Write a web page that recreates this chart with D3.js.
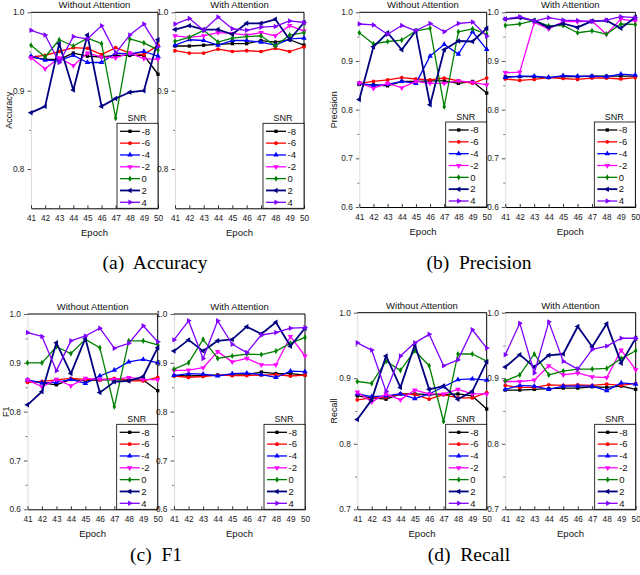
<!DOCTYPE html>
<html><head><meta charset="utf-8">
<script src="https://cdn.jsdelivr.net/npm/d3@7"></script>
<style>body{margin:0;background:#fff}svg{display:block}</style>
</head><body>
<script>
const epochs = [41,42,43,44,45,46,47,48,49,50];
const snrLabels = ["-8","-6","-4","-2","0","2","4"];

const accuracyWithout = [
 [0.943,0.940,0.940,0.948,0.944,0.943,0.945,0.945,0.945,0.921],
 [0.943,0.945,0.950,0.955,0.954,0.946,0.955,0.948,0.946,0.958],
 [0.944,0.939,0.938,0.945,0.936,0.936,0.948,0.947,0.950,0.944],
 [0.942,0.928,0.942,0.932,0.948,0.943,0.942,0.948,0.941,0.940],
 [0.958,0.943,0.965,0.957,0.967,0.960,0.865,0.966,0.961,0.952],
 [0.872,0.880,0.960,0.901,0.971,0.880,0.890,0.898,0.900,0.965],
 [0.977,0.971,0.936,0.969,0.966,0.983,0.948,0.971,0.985,0.956]
];
const accuracyWith = [
 [0.957,0.957,0.958,0.959,0.960,0.960,0.964,0.962,0.965,0.958],
 [0.951,0.948,0.948,0.953,0.950,0.951,0.950,0.954,0.950,0.956],
 [0.958,0.965,0.964,0.958,0.964,0.964,0.962,0.958,0.966,0.967],
 [0.970,0.968,0.970,0.974,0.973,0.971,0.974,0.970,0.983,0.976],
 [0.963,0.968,0.977,0.962,0.967,0.969,0.970,0.957,0.971,0.974],
 [0.978,0.983,0.978,0.978,0.972,0.986,0.986,0.991,0.965,0.987],
 [0.985,0.992,0.977,0.994,0.979,0.977,0.981,0.982,0.989,0.987]
];
const precisionWithout = [
 [0.852,0.851,0.849,0.858,0.858,0.859,0.859,0.854,0.858,0.834],
 [0.854,0.858,0.861,0.866,0.863,0.861,0.865,0.859,0.854,0.865],
 [0.854,0.850,0.852,0.858,0.854,0.910,0.934,0.914,0.960,0.924],
 [0.855,0.844,0.854,0.845,0.858,0.854,0.854,0.859,0.856,0.851],
 [0.958,0.935,0.940,0.943,0.962,0.967,0.806,0.960,0.966,0.955],
 [0.821,0.929,0.958,0.923,0.962,0.810,0.923,0.941,0.940,0.967],
 [0.976,0.974,0.955,0.973,0.962,0.977,0.960,0.977,0.980,0.951]
];
const precisionWith = [
 [0.868,0.868,0.868,0.866,0.868,0.868,0.869,0.869,0.869,0.869],
 [0.863,0.860,0.862,0.866,0.864,0.862,0.865,0.865,0.863,0.866],
 [0.866,0.869,0.869,0.866,0.870,0.869,0.869,0.868,0.873,0.871],
 [0.876,0.877,0.979,0.966,0.981,0.981,0.982,0.955,0.986,0.982],
 [0.973,0.976,0.983,0.972,0.973,0.958,0.962,0.955,0.976,0.975],
 [0.986,0.989,0.983,0.969,0.977,0.969,0.982,0.983,0.967,0.990],
 [0.986,0.991,0.982,0.989,0.984,0.983,0.981,0.984,0.991,0.989]
];
const f1Without = [
 [0.863,0.859,0.855,0.866,0.863,0.865,0.865,0.865,0.865,0.843],
 [0.860,0.862,0.865,0.868,0.866,0.865,0.868,0.863,0.863,0.870],
 [0.865,0.859,0.860,0.866,0.858,0.873,0.885,0.902,0.907,0.900],
 [0.865,0.851,0.866,0.853,0.868,0.866,0.866,0.870,0.866,0.865],
 [0.900,0.900,0.933,0.919,0.948,0.931,0.810,0.945,0.945,0.937],
 [0.814,0.841,0.941,0.878,0.950,0.839,0.861,0.863,0.872,0.931],
 [0.962,0.954,0.884,0.945,0.955,0.971,0.930,0.940,0.976,0.943]
];
const f1With = [
 [0.874,0.873,0.874,0.875,0.875,0.876,0.881,0.878,0.878,0.875],
 [0.873,0.870,0.872,0.875,0.874,0.874,0.875,0.876,0.873,0.875],
 [0.874,0.878,0.877,0.873,0.878,0.879,0.876,0.870,0.883,0.882],
 [0.884,0.885,0.890,0.923,0.902,0.909,0.896,0.896,0.954,0.914],
 [0.887,0.900,0.948,0.909,0.914,0.918,0.917,0.924,0.940,0.952],
 [0.924,0.947,0.924,0.945,0.948,0.974,0.959,0.983,0.934,0.971],
 [0.947,0.986,0.909,0.986,0.938,0.921,0.957,0.962,0.971,0.972]
];
const recallWithout = [
 [0.873,0.870,0.868,0.876,0.876,0.875,0.875,0.876,0.873,0.853],
 [0.867,0.870,0.871,0.876,0.875,0.868,0.875,0.870,0.870,0.878],
 [0.876,0.872,0.873,0.876,0.869,0.876,0.887,0.898,0.899,0.897],
 [0.879,0.864,0.876,0.867,0.882,0.876,0.876,0.883,0.876,0.876],
 [0.895,0.892,0.926,0.912,0.942,0.919,0.834,0.937,0.937,0.926],
 [0.837,0.867,0.934,0.886,0.951,0.883,0.888,0.868,0.880,0.925],
 [0.954,0.943,0.880,0.934,0.954,0.967,0.919,0.928,0.974,0.946]
];
const recallWith = [
 [0.882,0.882,0.883,0.884,0.885,0.885,0.887,0.886,0.888,0.883],
 [0.889,0.886,0.886,0.890,0.889,0.890,0.889,0.891,0.889,0.892],
 [0.883,0.889,0.888,0.883,0.888,0.888,0.888,0.881,0.893,0.891],
 [0.895,0.895,0.897,0.919,0.905,0.908,0.902,0.901,0.943,0.913],
 [0.896,0.905,0.937,0.905,0.911,0.914,0.914,0.915,0.930,0.942],
 [0.917,0.936,0.917,0.935,0.937,0.979,0.948,0.983,0.923,0.961],
 [0.936,0.984,0.908,0.986,0.926,0.914,0.944,0.949,0.961,0.961]
];

const colors = ["#000000","#ff0000","#0000ff","#ff00ff","#008000","#000080","#8000ff"];
const symTypes = [
  {t:d3.symbolSquare, r:0, s:11},
  {t:d3.symbolCircle, r:0, s:11},
  {t:d3.symbolTriangle, r:0, s:13},
  {t:d3.symbolTriangle, r:180, s:13},
  {t:d3.symbolDiamond, r:0, s:11},
  {t:d3.symbolTriangle, r:-90, s:13},
  {t:d3.symbolTriangle, r:90, s:13}
];

const figures = [
  {caption:"(a)  Accuracy", ylabel:"Accuracy", domain:[0.75,1.0], ticks:[0.8,0.9,1.0], minor:[0.85,0.95],
   yTop:12.3, yBot:208.3, ylabX:11.5, capX:155, capY:269,
   panels:[{x0:31,x1:158,data:accuracyWithout,title:"Without Attention"},
           {x0:175,x1:304,data:accuracyWith,title:"With Attention"}]},
  {caption:"(b)  Precision", ylabel:"Precision", domain:[0.6,1.0], ticks:[0.6,0.7,0.8,0.9,1.0], minor:[0.65,0.75,0.85,0.95],
   yTop:12.3, yBot:207, ylabX:336.5, capX:479, capY:269,
   panels:[{x0:359.3,x1:486.7,data:precisionWithout,title:"Without Attention"},
           {x0:505.3,x1:635.3,data:precisionWith,title:"With Attention"}]},
  {caption:"(c)  F1", ylabel:"F1", domain:[0.6,1.0], ticks:[0.6,0.7,0.8,0.9,1.0], minor:[0.65,0.75,0.85,0.95],
   yTop:314, yBot:509.3, ylabX:8.5, capX:156, capY:561,
   panels:[{x0:27.5,x1:157.7,data:f1Without,title:"Without Attention"},
           {x0:174,x1:305,data:f1With,title:"With Attention"}]},
  {caption:"(d)  Recall", ylabel:"Recall", domain:[0.7,1.0], ticks:[0.7,0.8,0.9,1.0], minor:[0.75,0.85,0.95],
   yTop:312.7, yBot:509.3, ylabX:336.5, capX:469, capY:561,
   panels:[{x0:357.3,x1:486.7,data:recallWithout,title:"Without Attention"},
           {x0:505.3,x1:635.7,data:recallWith,title:"With Attention"}]}
];

const svg = d3.select("body").append("svg").attr("width",640).attr("height",575)
  .style("font-family","'Liberation Sans', Arial, sans-serif");

figures.forEach(fig => {
  const g = svg.append("g");
  const y = d3.scaleLinear().domain(fig.domain).range([fig.yBot, fig.yTop]);

  fig.panels.forEach((p, pi) => {
    const x = d3.scaleLinear().domain([41,50]).range([p.x0, p.x1]);
    const pg = g.append("g");

    const ya = pg.append("g").attr("transform",`translate(${p.x0},0)`)
      .call(d3.axisLeft(y).tickValues(fig.ticks).tickSizeInner(3.5).tickSizeOuter(0).tickPadding(3)
        .tickFormat(d3.format(".1f")));
    ya.select(".domain").attr("stroke","#dcdcdc").attr("stroke-width",1);
    ya.selectAll(".tick line").attr("stroke","#444").attr("stroke-width",0.9);
    ya.selectAll(".tick text").attr("font-size",8.3).attr("fill","#222")
      .style("font-family","'Liberation Sans', Arial, sans-serif");
    const ym = pg.append("g").attr("transform",`translate(${p.x0},0)`)
      .call(d3.axisLeft(y).tickValues(fig.minor).tickSizeInner(2).tickSizeOuter(0).tickFormat(""));
    ym.select(".domain").remove();
    ym.selectAll(".tick line").attr("stroke","#555").attr("stroke-width",0.8);

    pg.append("line").attr("x1",p.x0).attr("x2",p.x1).attr("y1",fig.yTop).attr("y2",fig.yTop)
      .attr("stroke","#000").attr("stroke-width",1);
    pg.append("line").attr("x1",p.x1).attr("x2",p.x1).attr("y1",fig.yTop).attr("y2",fig.yBot)
      .attr("stroke","#000").attr("stroke-width",1);

    const xa = pg.append("g").attr("transform",`translate(0,${fig.yBot})`)
      .call(d3.axisBottom(x).tickValues(epochs).tickSizeInner(-3).tickSizeOuter(0).tickPadding(7)
        .tickFormat(d3.format("d")));
    xa.select(".domain").attr("stroke","#000").attr("stroke-width",1);
    xa.selectAll(".tick line").attr("stroke","#000").attr("stroke-width",0.8);
    xa.selectAll(".tick text").attr("font-size",8.3).attr("fill","#222")
      .style("font-family","'Liberation Sans', Arial, sans-serif");

    pg.append("text").attr("x",(p.x0+p.x1)/2).attr("y",fig.yTop-4).attr("text-anchor","middle")
      .attr("font-size",9.5).attr("fill","#111").text(p.title);
    pg.append("text").attr("x",(p.x0+p.x1)/2).attr("y",fig.yBot+28).attr("text-anchor","middle")
      .attr("font-size",9.5).attr("fill","#111").text("Epoch");

    const line = d3.line().x((d,i)=>x(epochs[i])).y(d=>y(d));
    p.data.forEach((vals, si) => {
      pg.append("path").datum(vals).attr("d",line).attr("fill","none")
        .attr("stroke",colors[si]).attr("stroke-width", si===5 ? 1.8 : 1.3)
        .attr("stroke-linejoin","round");
      const st = symTypes[si];
      pg.selectAll(null).data(vals).enter().append("path")
        .attr("d", d3.symbol().type(st.t).size(st.s))
        .attr("transform",(d,i)=>`translate(${x(epochs[i])},${y(d)}) rotate(${st.r})`)
        .attr("fill",colors[si]);
    });

    const lw = 41, lx = p.x1 - lw, ly = fig.yBot - 85;
    const lg = pg.append("g");
    lg.append("rect").attr("x",lx).attr("y",ly).attr("width",lw).attr("height",fig.yBot-ly)
      .attr("fill","#fff").attr("stroke","#000").attr("stroke-width",0.8);
    lg.append("text").attr("x",lx+20).attr("y",ly-2).attr("text-anchor","middle")
      .attr("font-size",9).attr("fill","#111").text("SNR");
    const rowY = d3.scalePoint().domain(snrLabels).range([ly+8, fig.yBot-6]);
    snrLabels.forEach((lab, si) => {
      const yy = rowY(lab);
      lg.append("line").attr("x1",lx+3).attr("x2",lx+23).attr("y1",yy).attr("y2",yy)
        .attr("stroke",colors[si]).attr("stroke-width", si===5 ? 1.8 : 1.3);
      const st = symTypes[si];
      lg.append("path").attr("d", d3.symbol().type(st.t).size(st.s)())
        .attr("transform",`translate(${lx+13},${yy}) rotate(${st.r})`).attr("fill",colors[si]);
      lg.append("text").attr("x",lx+24.5).attr("y",yy+3.3).attr("font-size",9.5).attr("fill","#111").text(lab);
    });
  });

  const cy = (fig.yTop + fig.yBot)/2;
  g.append("text").attr("transform",`translate(${fig.ylabX},${cy}) rotate(-90)`)
    .attr("text-anchor","middle").attr("font-size",9).attr("fill","#111").text(fig.ylabel);

  g.append("text").attr("x",fig.capX).attr("y",fig.capY).attr("text-anchor","middle")
    .style("font-family","'Liberation Serif', 'Times New Roman', serif").style("white-space","pre")
    .attr("font-size",19.5).attr("fill","#000").text(fig.caption);
});
</script>
</body></html>
